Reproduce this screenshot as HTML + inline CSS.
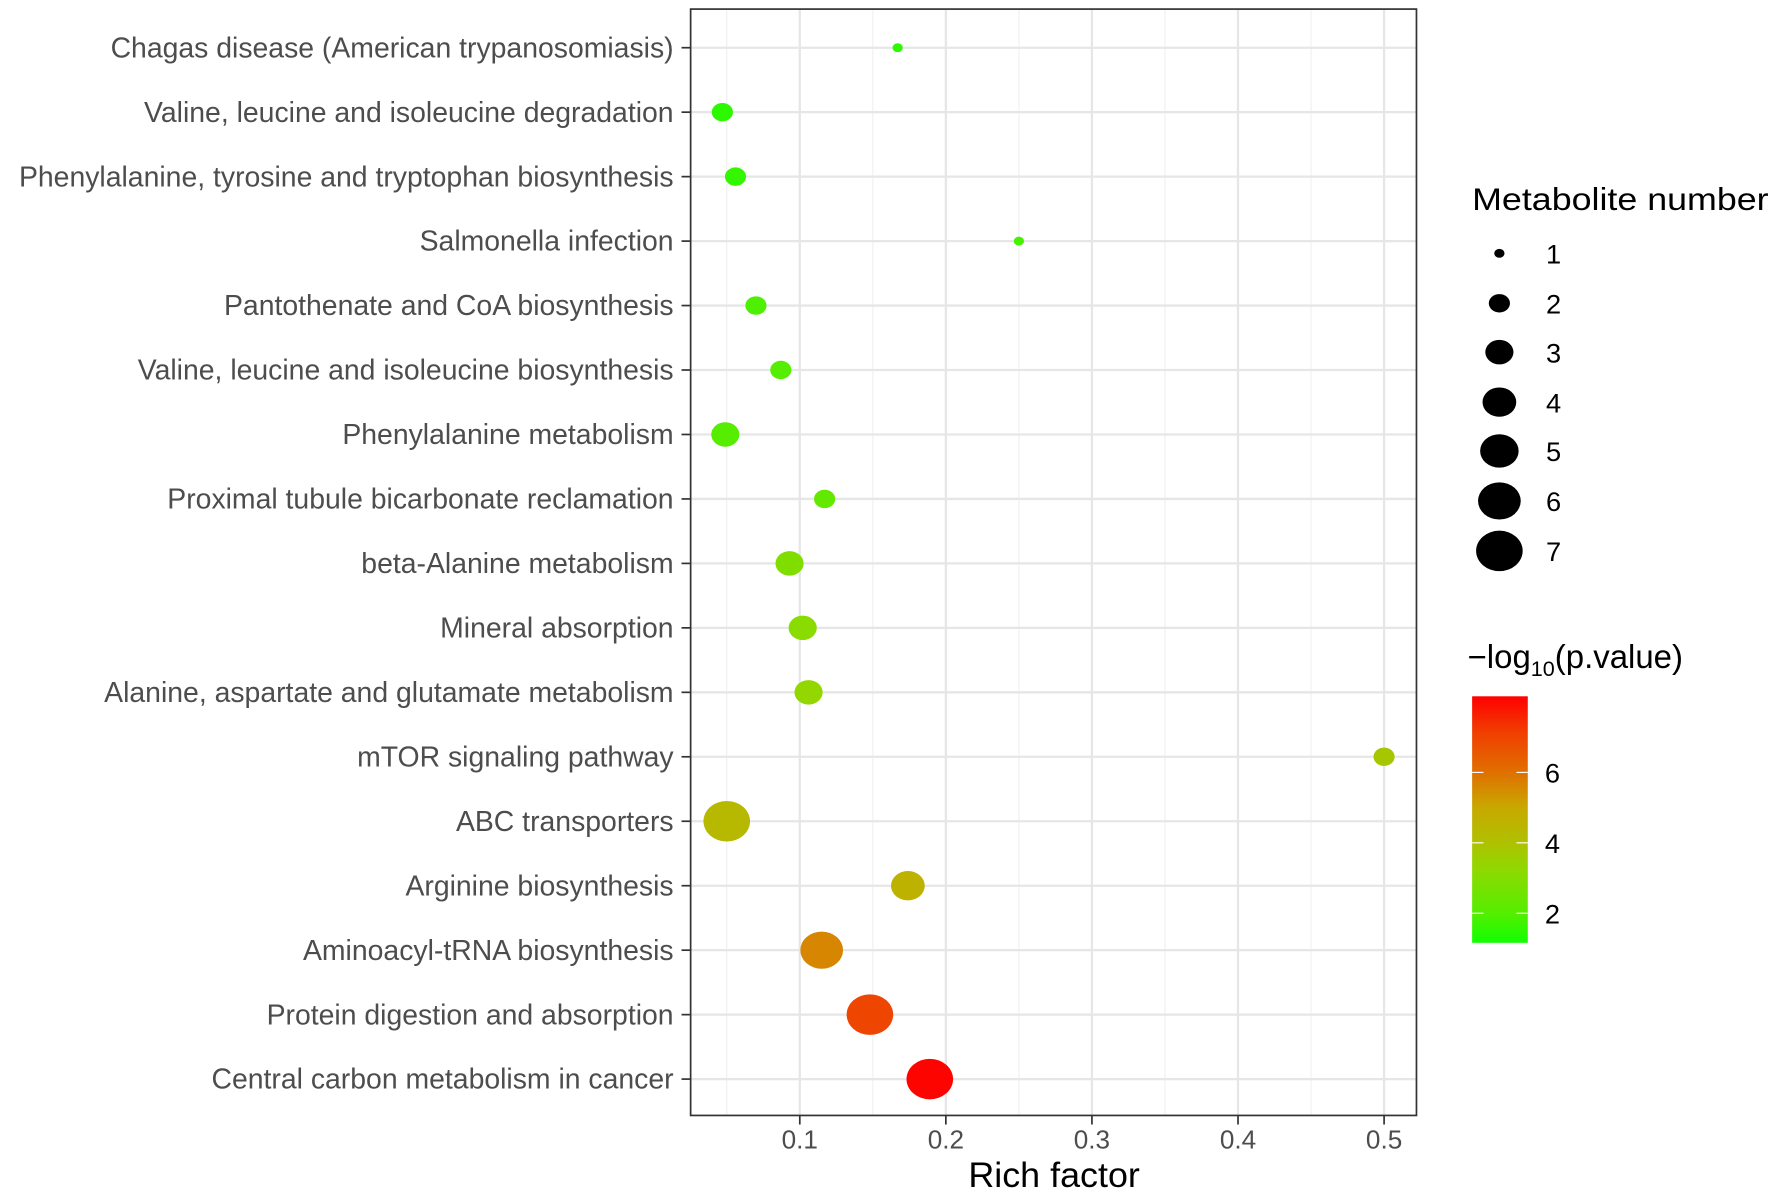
<!DOCTYPE html>
<html><head><meta charset="utf-8"><style>
html,body{margin:0;padding:0;background:#fff;}
svg{display:block;}
text{font-family:"Liberation Sans",sans-serif;}
</style></head>
<body>
<svg id="chart" width="1772" height="1192" viewBox="0 0 1560 1049.4" preserveAspectRatio="none" xmlns="http://www.w3.org/2000/svg">
<defs>
<linearGradient id="cbar" x1="0" y1="1" x2="0" y2="0">
<stop offset="0" stop-color="#10ff00"/><stop offset="0.12" stop-color="#55ee00"/><stop offset="0.3" stop-color="#90d800"/><stop offset="0.41" stop-color="#b0c000"/><stop offset="0.55" stop-color="#c8a800"/><stop offset="0.69" stop-color="#e07000"/><stop offset="0.85" stop-color="#f04000"/><stop offset="1" stop-color="#ff0000"/>
</linearGradient>
</defs>
<g id="grid"></g>
<g id="pts"></g>
<rect x="608" y="8" width="639" height="974" fill="none" stroke="#333" stroke-width="1.5"/>
<g id="axes"></g>
<text x="928" y="1045" font-size="31" text-anchor="middle" fill="#000" textLength="151" lengthAdjust="spacingAndGlyphs">Rich factor</text>
<text x="1296" y="185" font-size="28" fill="#000" textLength="261" lengthAdjust="spacingAndGlyphs">Metabolite number</text>
<g id="sizeLegend"></g>
<text x="1292" y="588" font-size="29" fill="#000">−log<tspan font-size="19" dy="7">10</tspan><tspan dy="-7">(p.value)</tspan></text>
<rect x="1296" y="613" width="49" height="217" fill="url(#cbar)"/>
<g id="colorTicks"></g>
</svg>
<script>
const categories = ["Chagas disease (American trypanosomiasis)","Valine, leucine and isoleucine degradation","Phenylalanine, tyrosine and tryptophan biosynthesis","Salmonella infection","Pantothenate and CoA biosynthesis","Valine, leucine and isoleucine biosynthesis","Phenylalanine metabolism","Proximal tubule bicarbonate reclamation","beta-Alanine metabolism","Mineral absorption","Alanine, aspartate and glutamate metabolism","mTOR signaling pathway","ABC transporters","Arginine biosynthesis","Aminoacyl-tRNA biosynthesis","Protein digestion and absorption","Central carbon metabolism in cancer"];
const richFactor = [0.167,0.047,0.056,0.25,0.070,0.087,0.049,0.117,0.093,0.102,0.106,0.5,0.050,0.174,0.115,0.148,0.189];
const counts = [1,2,2,1,2,2,3,2,3,3,3,2,7,4,6,7,7];
const logP = [1.5,1.5,1.6,1.8,1.9,2.0,2.05,2.3,2.9,3.1,3.3,3.8,4.3,4.6,5.6,7.0,8.1];
const xTicks = [0.1,0.2,0.3,0.4,0.5];
const xMinor = [0.05,0.15,0.25,0.35,0.45];
const sizeLegend = [1,2,3,4,5,6,7];
const colorTicks = [2,4,6];

const NS="http://www.w3.org/2000/svg";
function mk(tag,attrs,parent){const e=document.createElementNS(NS,tag);for(const k in attrs)e.setAttribute(k,attrs[k]);parent.appendChild(e);return e;}
const X0=575.5, XS=1286;
function xs(v){return X0+v*XS;}
const Y0=42, YS=56.75;
function ys(i){return Y0+i*YS;}
function rad(n){return Math.sqrt(20.25+400*(n-1)/6);}
const CMIN=1.16, CMAX=8.16;
const stops=[[0,[16,255,0]],[0.12,[85,238,0]],[0.3,[144,216,0]],[0.41,[176,192,0]],[0.55,[200,168,0]],[0.69,[224,112,0]],[0.85,[240,64,0]],[1,[255,0,0]]];
function col(v){let t=(v-CMIN)/(CMAX-CMIN);t=Math.max(0,Math.min(1,t));
 for(let i=1;i<stops.length;i++){if(t<=stops[i][0]){const a=stops[i-1],b=stops[i];const f=(t-a[0])/(b[0]-a[0]);const c=a[1].map((x,j)=>Math.round(x+(b[1][j]-x)*f));return `rgb(${c})`;}}return "rgb(255,0,0)";}
function cy(v){return 804-(v-2)*31;}

const grid=document.getElementById('grid');
xMinor.forEach(v=>{const l=mk('line',{x1:xs(v),x2:xs(v),y1:8,y2:982,stroke:'#f0f0f0','stroke-width':1},grid);

});
xTicks.forEach(v=>{const l=mk('line',{x1:xs(v),x2:xs(v),y1:8,y2:982,stroke:'#e6e6e6','stroke-width':2},grid);

});
categories.forEach((c,i)=>{const l=mk('line',{x1:608,x2:1247,y1:ys(i),y2:ys(i),stroke:'#e6e6e6','stroke-width':2},grid);

});

const axes=document.getElementById('axes');
categories.forEach((c,i)=>{
 const t=mk('line',{x1:600,x2:608,y1:ys(i),y2:ys(i),stroke:'#333','stroke-width':1.5},axes);
 
 
 const tx=mk('text',{x:593,y:ys(i)+8.5,'font-size':25,'text-anchor':'end',fill:'#4d4d4d'},axes);
 tx.textContent=c;
 
 
});
xTicks.forEach(v=>{
 const t=mk('line',{x1:xs(v),x2:xs(v),y1:982,y2:990,stroke:'#333','stroke-width':1.5},axes);
 
 
 const tx=mk('text',{x:xs(v),y:1011,'font-size':23,'text-anchor':'middle',fill:'#4d4d4d'},axes);
 tx.textContent=String(v);
 
 
});

const pts=document.getElementById('pts');
categories.forEach((c,i)=>{
 const r=rad(counts[i]);
 const e=mk('ellipse',{cx:xs(richFactor[i]),cy:ys(i),rx:r,ry:r*0.87,fill:col(logP[i])},pts);
 
 
});

const sl=document.getElementById('sizeLegend');
const sly=[223,267,310,354,397,441,485];
sizeLegend.forEach((n,i)=>{
 const r=rad(n);
 const e=mk('ellipse',{cx:1320,cy:sly[i],rx:r,ry:r*0.87,fill:'#000'},sl);
 
 
 const t=mk('text',{x:1361,y:sly[i]+9,'font-size':24,fill:'#000'},sl);
 t.textContent=String(n);
 
 
});

const ct=document.getElementById('colorTicks');
colorTicks.forEach(v=>{
 const a=mk('line',{x1:1296,x2:1306,y1:cy(v),y2:cy(v),stroke:'#fff','stroke-width':1},ct);
 
 
 const b=mk('line',{x1:1335,x2:1345,y1:cy(v),y2:cy(v),stroke:'#fff','stroke-width':1},ct);
 
 
 const t=mk('text',{x:1360,y:cy(v)+9,'font-size':24,fill:'#000'},ct);
 t.textContent=String(v);
 
 
});
</script>
</body></html>
